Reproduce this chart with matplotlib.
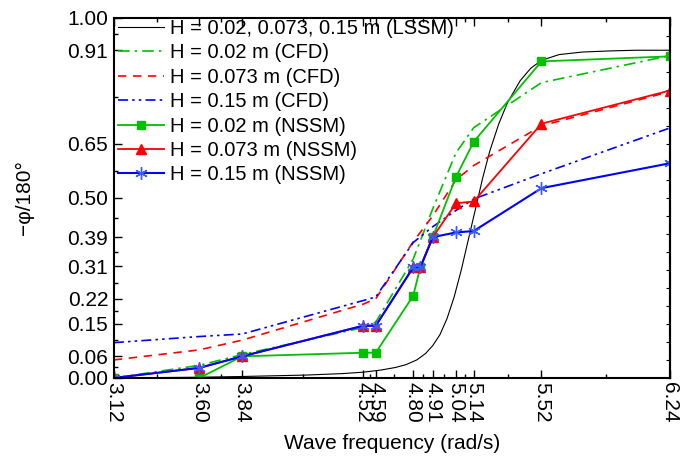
import matplotlib
matplotlib.use("Agg")
import matplotlib.pyplot as plt

plt.rcParams['font.family'] = ['Liberation Sans', 'DejaVu Sans']

# frequencies (rad/s)
freq_nssm = [3.12, 3.60, 3.84, 4.52, 4.59, 4.80, 4.84, 4.91, 5.04, 5.14, 5.52, 6.24]
freq_cfd = [3.12, 3.60, 3.84, 4.52, 4.59, 4.80, 4.91, 5.04, 5.14, 5.52, 6.24]

# NSSM results
nssm_002 = [0.000, 0.000, 0.060, 0.070, 0.070, 0.228, 0.307, 0.391, 0.558, 0.656, 0.879, 0.893]
nssm_0073 = [0.000, 0.028, 0.060, 0.145, 0.145, 0.307, 0.307, 0.391, 0.485, 0.490, 0.706, 0.798]
nssm_015 = [0.000, 0.028, 0.060, 0.145, 0.145, 0.307, 0.307, 0.391, 0.404, 0.408, 0.527, 0.596]

# CFD results
cfd_002 = [0.000, 0.035, 0.065, 0.140, 0.155, 0.330, 0.470, 0.625, 0.695, 0.820, 0.895]
cfd_0073 = [0.050, 0.078, 0.105, 0.205, 0.220, 0.378, 0.450, 0.550, 0.590, 0.700, 0.795]
cfd_015 = [0.098, 0.115, 0.122, 0.215, 0.225, 0.376, 0.420, 0.465, 0.497, 0.567, 0.694]

# LSSM curve (same for all H)
freq_lssm = [3.12, 3.60, 3.84, 4.20, 4.40, 4.52, 4.62, 4.70, 4.76, 4.82, 4.87, 4.91, 4.95,
             4.99, 5.03, 5.07, 5.11, 5.15, 5.19, 5.23, 5.28, 5.33, 5.40, 5.46, 5.52,
             5.62, 5.75, 5.90, 6.05, 6.24]
lssm = [0.000, 0.002, 0.004, 0.008, 0.012, 0.016, 0.022, 0.029, 0.037, 0.050, 0.068, 0.090,
        0.120, 0.165, 0.225, 0.300, 0.385, 0.470, 0.555, 0.630, 0.705, 0.765, 0.825, 0.860,
        0.882, 0.898, 0.905, 0.908, 0.910, 0.910]

xticks = [3.12, 3.60, 3.84, 4.52, 4.59, 4.80, 4.91, 5.04, 5.14, 5.52, 6.24]
yticks = [0.00, 0.06, 0.15, 0.22, 0.31, 0.39, 0.50, 0.65, 0.91, 1.00]

green = '#00c000'
red = '#ff0000'
blue = '#0000ff'

fig = plt.figure(figsize=(6.82, 4.57), dpi=100)
ax = fig.add_axes([0.167, 0.173, 0.815, 0.788])

ax.plot(freq_lssm, lssm, color='black', lw=0.8, label='H = 0.02, 0.073, 0.15 m (LSSM)')
ax.plot(freq_cfd, cfd_002, color=green, lw=1.2, dashes=[7, 3, 1.5, 3],
        label='H = 0.02 m (CFD)')
ax.plot(freq_cfd, cfd_0073, color=red, lw=1.2, dashes=[5, 4],
        label='H = 0.073 m (CFD)')
ax.plot(freq_cfd, cfd_015, color=blue, lw=1.2, dashes=[6, 2.5, 1.5, 2.5, 1.5, 2.5],
        label='H = 0.15 m (CFD)')
ax.plot(freq_nssm, nssm_002, color=green, lw=1.3, marker='s', ms=6,
        label='H = 0.02 m (NSSM)')
ax.plot(freq_nssm, nssm_0073, color=red, lw=1.3, marker='^', ms=7.5,
        label='H = 0.073 m (NSSM)')
ax.plot(freq_nssm, nssm_015, color=blue, lw=1.5, marker=(6, 2, 0), ms=9,
        mec='#3a5cff', mew=1.0, label='H = 0.15 m (NSSM)')

ax.set_xlim(3.12, 6.24)
ax.set_ylim(0, 1.0)
ax.set_xticks(xticks)
ax.set_xticklabels(['%.2f' % v for v in xticks], rotation=-90)
ax.set_xticks([(a + b) / 2 for a, b in zip(xticks[:-1], xticks[1:])], minor=True)
ax.set_yticks(yticks)
ax.set_yticklabels(['%.2f' % v for v in yticks])
ax.set_yticks([(a + b) / 2 for a, b in zip(yticks[:-1], yticks[1:])], minor=True)

ax.tick_params(which='both', direction='in', top=True, right=False, labelsize=15, width=1.0)
ax.tick_params(which='major', length=6, pad=4)
ax.tick_params(which='minor', length=3)
ax.tick_params(axis='x', pad=3)

sec = ax.secondary_yaxis('right')
sec.set_yticks([i * 0.05 for i in range(21)])
sec.tick_params(direction='in', length=3, labelright=False)
for s in sec.spines.values():
    s.set_linewidth(1.5)

for s in ax.spines.values():
    s.set_linewidth(1.5)

ax.set_xlabel('Wave frequency (rad/s)', fontsize=15, labelpad=8)
ax.set_ylabel('\u2212\u03c6/180\u00b0', fontsize=15, labelpad=24)

ax.legend(loc='upper left', bbox_to_anchor=(0.005, 1.0), frameon=False, fontsize=14.5,
          handlelength=2.3, handletextpad=0.3, labelspacing=0.27, borderaxespad=0.0,
          borderpad=0.05)

fig.savefig('out.png', dpi=100)
